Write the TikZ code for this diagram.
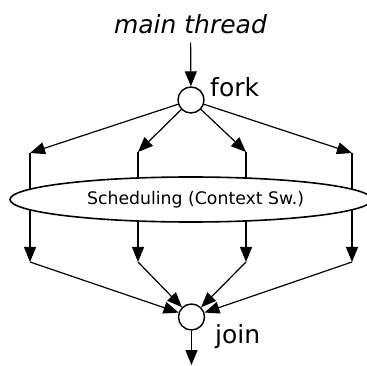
\documentclass[tikz,border=0pt]{standalone}
\usepackage{fontspec}
\setmainfont{DejaVu Sans}
\usepackage{tikz}
\usepackage{xcolor}
\usetikzlibrary{arrows.meta,positioning,shapes.geometric}
\definecolor{ink}{HTML}{000000}
\definecolor{plainbg}{HTML}{FFFFFF}
\tikzset{
  flow/.style={draw=ink,line width=1.2pt,-{Triangle[length=15pt,width=12pt]}},
  joint/.style={circle,draw=ink,line width=1.4pt,fill=plainbg,minimum size=26pt,inner sep=0pt},
  tag/.style={font=\fontsize{25}{30}\selectfont,inner sep=0pt}
}

\begin{document}
\begin{tikzpicture}[x=1pt,y=-1pt]
 \useasboundingbox (0,0) rectangle (367,366);
 \node[tag,font=\fontsize{25}{30}\selectfont\itshape,anchor=base] (title) at (190.5,34) {main thread};
 \node[joint] (fork) at (191,100) {};
 \node[tag,anchor=base west] (forktag) at (210,97) {fork};
 \node[joint] (join) at (191.5,317) {};
 \node[tag,anchor=base west] (jointag) at (215,343) {join};
 \coordinate (t1) at (30,153);
 \coordinate (t2) at (138,152);
 \coordinate (t3) at (246,152);
 \coordinate (t4) at (352,153);
 \coordinate (b1) at (30,262);
 \coordinate (b2) at (138,262);
 \coordinate (b3) at (246,262);
 \coordinate (b4) at (352,262);
 \coordinate (out) at (191.5,365);
 \draw[flow,shorten <=8pt] (title) -- (fork);
 \foreach \i in {1,...,4}{
   \draw[flow] (fork) -- (t\i);
   \draw[flow] (t\i) -- (b\i);
   \draw[flow] (b\i) -- (join);
 }
 \node[ellipse,draw=ink,line width=1.6pt,fill=plainbg,minimum width=362pt,minimum height=45pt,
       inner sep=0pt,font=\fontsize{17.3}{20}\selectfont]
 (sched) at (191,199.5) {\hspace*{9pt}Scheduling (Context Sw.)};
 \draw[flow] (join) -- (out);
\end{tikzpicture}
\end{document}
